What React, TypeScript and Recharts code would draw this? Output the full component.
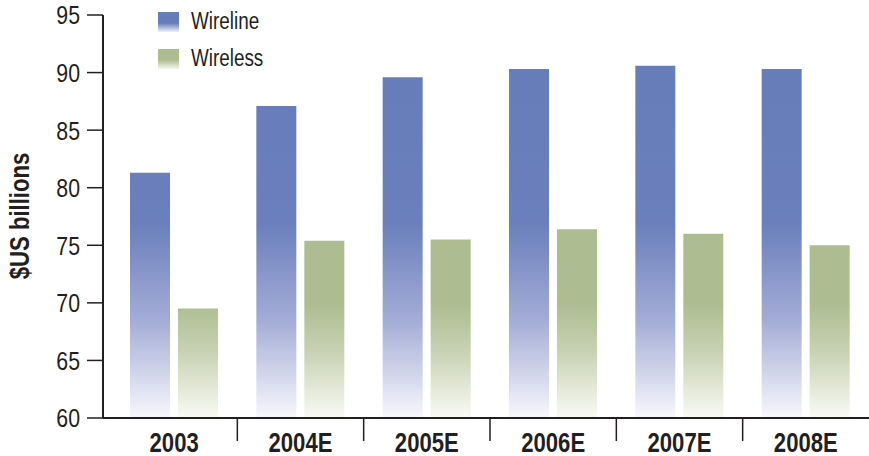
import React from 'react';
import { BarChart, Bar, XAxis, YAxis, Legend } from 'recharts';

const years = ['2003', '2004E', '2005E', '2006E', '2007E', '2008E'];
const wireline = [81.3, 87.1, 89.6, 90.3, 90.6, 90.3];
const wireless = [69.5, 75.4, 75.5, 76.4, 76.0, 75.0];
const yTicks = [60, 65, 70, 75, 80, 85, 90, 95];

const data = years.map((year, i) => ({ year, wireline: wireline[i], wireless: wireless[i] }));

// no condensed font installed, so squeeze Liberation Sans horizontally
const FONT = '"Liberation Sans", Arial, sans-serif';
const SQUEEZE = 0.82;
const INK = '#231f20';

const COLORS = {
  wireline: '#667dba',
  wireless: '#adbd91',
};

const W = 869;
const H = 456;
const AXIS_W = 103;
const PAD_LEFT = 8;
const BAND = (W - AXIS_W - PAD_LEFT) / years.length;

const renderXTick = (props: any) => {
  const { x, y, payload, index } = props;
  const sx = x + BAND / 2;
  return (
    <g>
      <text
        transform={`translate(${x},${y + 34}) scale(${SQUEEZE},1)`}
        textAnchor="middle"
        fontFamily={FONT}
        fontWeight="bold"
        fontSize={27}
        fill={INK}
      >
        {payload.value}
      </text>
      {index < years.length - 1 && (
        <line x1={sx} y1={y} x2={sx} y2={y + 23} stroke={INK} strokeWidth={1.5} />
      )}
    </g>
  );
};

const renderYTick = (props: any) => {
  const { x, y, payload } = props;
  return (
    <text
      transform={`translate(${x},${y}) scale(${SQUEEZE},1)`}
      textAnchor="end"
      dy="0.36em"
      fontFamily={FONT}
      fontSize={26}
      fill={INK}
    >
      {payload.value}
    </text>
  );
};

const renderYLabel = () => (
  <text
    transform={`translate(29,216) rotate(-90) scale(${SQUEEZE},1)`}
    textAnchor="middle"
    fontFamily={FONT}
    fontWeight="bold"
    fontSize={27}
    fill={INK}
  >
    $US billions
  </text>
);

const renderLegend = () => {
  const items = [
    { name: 'Wireline', color: COLORS.wireline, fade: '#eef0f8' },
    { name: 'Wireless', color: COLORS.wireless, fade: '#f4f6ee' },
  ];
  return (
    <div style={{ fontFamily: FONT }}>
      {items.map((item) => (
        <div key={item.name} style={{ display: 'flex', alignItems: 'center', height: 37 }}>
          <div
            style={{
              width: 21,
              height: 20,
              marginRight: 12,
              background: `linear-gradient(to bottom, ${item.color} 55%, ${item.fade})`,
            }}
          />
          <span
            style={{
              display: 'inline-block',
              fontSize: 23,
              color: INK,
              transform: `scaleX(${SQUEEZE})`,
              transformOrigin: 'left center',
              whiteSpace: 'nowrap',
            }}
          >
            {item.name}
          </span>
        </div>
      ))}
    </div>
  );
};

export default function App() {
  return (
    <div style={{ position: 'absolute', left: 0, top: 0, width: W, height: H, background: '#fff' }}>
      <BarChart
        width={W}
        height={H}
        data={data}
        margin={{ top: 15, right: 0, bottom: 0, left: 0 }}
        barSize={40}
        barGap={8}
      >
        <defs>
          <linearGradient id="wirelineGrad" gradientUnits="userSpaceOnUse" x1="0" y1="15" x2="0" y2="416">
            <stop offset="0" stopColor="#667dba" />
            <stop offset="0.52" stopColor="#6a7fbc" />
            <stop offset="0.76" stopColor="#a3acd6" />
            <stop offset="1" stopColor="#f6f6fb" />
          </linearGradient>
          <linearGradient id="wirelessGrad" gradientUnits="userSpaceOnUse" x1="0" y1="15" x2="0" y2="416">
            <stop offset="0" stopColor="#adbd91" />
            <stop offset="0.72" stopColor="#adbd91" />
            <stop offset="0.84" stopColor="#c8d2b3" />
            <stop offset="1" stopColor="#f8f9f3" />
          </linearGradient>
        </defs>
        <XAxis
          dataKey="year"
          height={38}
          padding={{ left: PAD_LEFT, right: 0 }}
          axisLine={{ stroke: INK, strokeWidth: 2 }}
          tickLine={false}
          tickSize={0}
          tickMargin={0}
          tick={renderXTick}
          interval={0}
        />
        <YAxis
          width={AXIS_W}
          domain={[60, 95]}
          ticks={yTicks}
          allowDataOverflow
          axisLine={{ stroke: INK, strokeWidth: 2 }}
          tickLine={{ stroke: INK, strokeWidth: 1.5 }}
          tickSize={16}
          tickMargin={7}
          tick={renderYTick}
          label={renderYLabel}
        />
        <Legend
          layout="vertical"
          align="center"
          verticalAlign="middle"
          content={renderLegend}
          wrapperStyle={{ top: 3, left: 158, width: 160 }}
        />
        <Bar dataKey="wireline" name="Wireline" fill="url(#wirelineGrad)" isAnimationActive={false} />
        <Bar dataKey="wireless" name="Wireless" fill="url(#wirelessGrad)" isAnimationActive={false} />
      </BarChart>
    </div>
  );
}
